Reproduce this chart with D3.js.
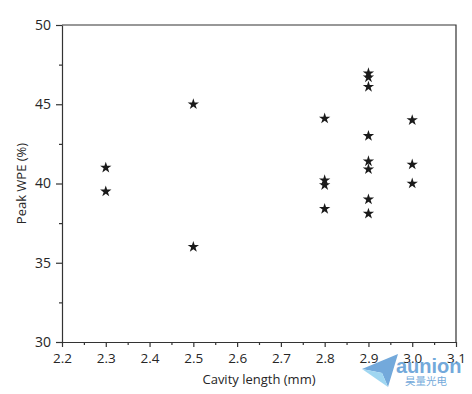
<!DOCTYPE html>
<html>
<head>
<meta charset="utf-8">
<script src="https://cdn.jsdelivr.net/npm/d3@7"></script>
<style>
  body { margin: 0; background: #fff; }
  text { font-family: "Open Sans", sans-serif; fill: #262626; }
</style>
</head>
<body>
<div id="chart"></div>
<script>
const cavityLength = [2.3, 2.3, 2.5, 2.5, 2.8, 2.8, 2.8, 2.8, 2.9, 2.9, 2.9, 2.9, 2.9, 2.9, 2.9, 2.9, 3.0, 3.0, 3.0];
const peakWPE = [41.0, 39.5, 45.0, 36.0, 44.1, 40.2, 39.9, 38.4, 46.95, 46.7, 46.1, 43.0, 41.4, 40.9, 39.0, 38.1, 44.0, 41.2, 40.0];
const xTicks = [2.2, 2.3, 2.4, 2.5, 2.6, 2.7, 2.8, 2.9, 3.0, 3.1];
const yTicks = [30, 35, 40, 45, 50];

const width = 472,
  height = 394,
  margin = ({ top: 25, right: 16, bottom: 52, left: 62 });

const x = d3.scaleLinear()
  .domain([2.2, 3.1])
  .range([margin.left, width - margin.right]);

const y = d3.scaleLinear()
  .domain([30, 50])
  .range([height - margin.bottom, margin.top]);

const svg = d3.select("#chart")
  .append("svg")
  .attr("width", width)
  .attr("height", height);

const minorX = d3.range(2.25, 3.1, 0.1);
const minorY = d3.range(32.5, 50, 5);

// minor ticks
svg.append("g")
  .attr("transform", `translate(0,${height - margin.bottom})`)
  .call(d3.axisBottom(x).tickValues(minorX).tickSize(3).tickFormat(""))
  .call(g => g.select(".domain").remove());

svg.append("g")
  .attr("transform", `translate(${margin.left},0)`)
  .call(d3.axisLeft(y).tickValues(minorY).tickSize(3).tickFormat(""))
  .call(g => g.select(".domain").remove());

// major ticks + labels
svg.append("g")
  .attr("transform", `translate(0,${height - margin.bottom})`)
  .call(d3.axisBottom(x).tickValues(xTicks).tickSize(5).tickPadding(6).tickSizeOuter(0).tickFormat(d3.format(".1f")))
  .call(g => g.selectAll("text").style("font-size", "13.5px"));

svg.append("g")
  .attr("transform", `translate(${margin.left},0)`)
  .call(d3.axisLeft(y).tickValues(yTicks).tickSize(6).tickPadding(5).tickSizeOuter(0))
  .call(g => g.selectAll("text").style("font-size", "14px"));

svg.selectAll(".tick line, .domain").attr("stroke", "#333").attr("stroke-width", 1.2);

// top and right border
svg.append("path")
  .attr("d", `M${x(2.2)},${y(50)}H${x(3.1)}V${y(30)}`)
  .attr("fill", "none")
  .attr("stroke", "#333")
  .attr("stroke-width", 1.2);

// stars
const star = d3.symbol().type(d3.symbolStar).size(40);
svg.append("g")
  .selectAll("path")
  .data(cavityLength)
  .join("path")
  .attr("d", star)
  .attr("transform", (d, i) => `translate(${x(d)},${y(peakWPE[i])})`)
  .attr("fill", "#1a1a1a");

// axis titles
svg.append("text")
  .attr("x", (margin.left + width - margin.right) / 2)
  .attr("y", height - 10)
  .attr("text-anchor", "middle")
  .style("font-size", "13px")
  .text("Cavity length (mm)");

svg.append("text")
  .attr("transform", `translate(26,${(margin.top + height - margin.bottom) / 2}) rotate(-90)`)
  .attr("text-anchor", "middle")
  .style("font-size", "13px")
  .text("Peak WPE (%)");

// watermark
const wm = svg.append("g").attr("opacity", 0.85);
wm.append("path")
  .attr("d", "M362,369 L398,354 L388,387 L382,373 Z")
  .attr("fill", "#5b9bd5");
wm.append("path")
  .attr("d", "M362,369 L382,373 L388,387 Z")
  .attr("fill", "#8fd0ef");
wm.append("text")
  .attr("x", 396)
  .attr("y", 373)
  .style("font-family", "Arial, sans-serif")
  .style("font-weight", "bold")
  .style("font-size", "20px")
  .style("fill", "#5b9bd5")
  .text("aunion");
wm.append("text")
  .attr("x", 405)
  .attr("y", 385)
  .style("font-family", "'Noto Sans CJK SC', sans-serif")
  .style("font-size", "10.5px")
  .style("fill", "#5b9bd5")
  .text("昊量光电");
</script>
</body>
</html>
